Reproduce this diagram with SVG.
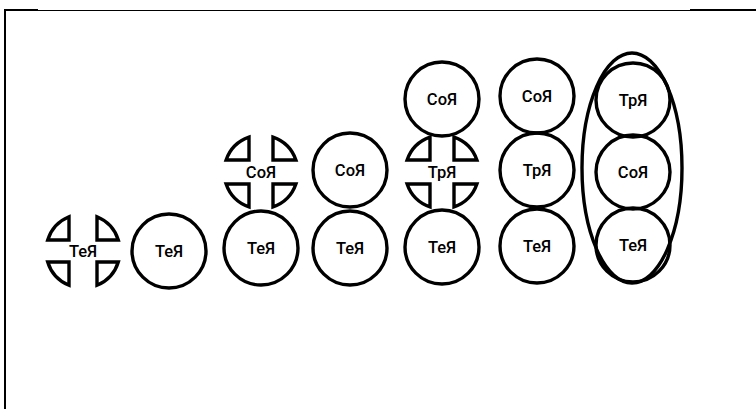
<svg xmlns="http://www.w3.org/2000/svg" width="756" height="409" viewBox="0 0 756 409">
<style>
.c{fill:none;stroke:#000;stroke-width:3.4}
.w{fill:none;stroke:#000;stroke-width:3.4;stroke-linejoin:miter}
.t{font-family:Roboto,"Liberation Sans",Arial,sans-serif;font-weight:500;font-size:16.5px;text-anchor:middle;fill:#000}
.f{stroke:#000;fill:none}
</style>
<defs>
<g id="broken">
<path class="w" d="M-12,-12 L-12,-34.9 A37,37 0 0 0 -34.9,-12 Z"/>
<path class="w" d="M12,-12 L12,-34.9 A37,37 0 0 1 34.9,-12 Z"/>
<path class="w" d="M-12,12 L-12,34.9 A37,37 0 0 1 -34.9,12 Z"/>
<path class="w" d="M12,12 L12,34.9 A37,37 0 0 0 34.9,12 Z"/>
</g>
<g id="broken1">
<path class="w" d="M-14,-11 L-14,-34.3 A37,37 0 0 0 -35.3,-11 Z"/>
<path class="w" d="M14,-11 L14,-34.3 A37,37 0 0 1 35.3,-11 Z"/>
<path class="w" d="M-14,11 L-14,34.3 A37,37 0 0 1 -35.3,11 Z"/>
<path class="w" d="M14,11 L14,34.3 A37,37 0 0 0 35.3,11 Z"/>
</g>
</defs>
<rect width="756" height="409" fill="#fff"/>
<g id="frame">
<line class="f" x1="5" y1="9" x2="5" y2="409" stroke-width="2"/>
<line class="f" x1="4" y1="10" x2="38" y2="10" stroke-width="2"/>
<line class="f" x1="38" y1="10.5" x2="690" y2="10.5" stroke-width="1"/>
<line class="f" x1="690" y1="10" x2="756" y2="10" stroke-width="2"/>
</g>
<g id="connectors"></g>
<g id="n1-te-broken"><use href="#broken1" x="83" y="251"/><text class="t" x="83" y="257">ТеЯ</text></g>
<g id="n2-te"><circle class="c" cx="169" cy="251" r="37"/><text class="t" x="169" y="257">ТеЯ</text></g>
<g id="n3-so-broken"><use href="#broken" x="261" y="172"/><text class="t" x="261" y="178">СоЯ</text></g>
<g id="n3-te"><circle class="c" cx="261" cy="248" r="37"/><text class="t" x="261" y="254">ТеЯ</text></g>
<g id="n4-so"><circle class="c" cx="350" cy="170" r="37"/><text class="t" x="350" y="176">СоЯ</text></g>
<g id="n4-te"><circle class="c" cx="350" cy="248" r="37"/><text class="t" x="350" y="254">ТеЯ</text></g>
<g id="n5-so"><circle class="c" cx="442" cy="99" r="37"/><text class="t" x="442" y="105">СоЯ</text></g>
<g id="n5-tr-broken"><use href="#broken" x="442" y="172"/><text class="t" x="442" y="178">ТрЯ</text></g>
<g id="n5-te"><circle class="c" cx="442" cy="247" r="37"/><text class="t" x="442" y="253">ТеЯ</text></g>
<g id="n6-so"><circle class="c" cx="537" cy="96" r="37"/><text class="t" x="537" y="102">СоЯ</text></g>
<g id="n6-tr"><circle class="c" cx="537" cy="170" r="37"/><text class="t" x="537" y="176">ТрЯ</text></g>
<g id="n6-te"><circle class="c" cx="537" cy="246" r="37"/><text class="t" x="537" y="252">ТеЯ</text></g>
<g id="n7-group"><ellipse class="c" cx="632" cy="168" rx="50" ry="115"/></g>
<g id="n7-tr"><circle class="c" cx="633" cy="100" r="37"/><text class="t" x="633" y="106">ТрЯ</text></g>
<g id="n7-so"><circle class="c" cx="633" cy="172" r="37"/><text class="t" x="633" y="178">СоЯ</text></g>
<g id="n7-te"><circle class="c" cx="633" cy="245" r="37"/><text class="t" x="633" y="251">ТеЯ</text></g>
</svg>
